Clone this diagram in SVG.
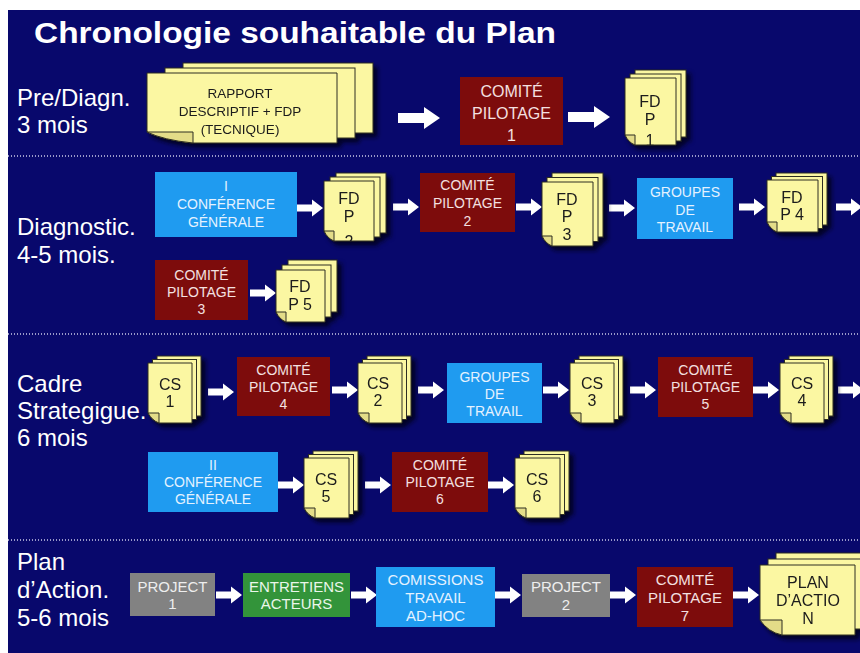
<svg xmlns="http://www.w3.org/2000/svg" width="860" height="653" viewBox="0 0 860 653">
<style>
.lbl{font-family:"Liberation Sans",Arial,sans-serif;font-size:24px;fill:#ffffff}
.ttl{font-family:"Liberation Sans",Arial,sans-serif;font-size:29px;font-weight:bold;fill:#ffffff}
.sep{stroke:#c9c9e6;stroke-width:1.5;stroke-dasharray:1 2;fill:none}
.red{fill:#7d0c0c}
.blue{fill:#1f9bf0}
.green{fill:#33943a}
.gray{fill:#828282}
.bt{font-family:"Liberation Sans",Arial,sans-serif;font-size:14px;text-anchor:middle}
.bt15{font-family:"Liberation Sans",Arial,sans-serif;font-size:15px;text-anchor:middle}
.bt16{font-family:"Liberation Sans",Arial,sans-serif;font-size:16px;text-anchor:middle}
.wr{fill:#f4e0e0}
.wb{fill:#e4f2ff}
.wg{fill:#eaf6ea}
.wgr{fill:#eeeeee}
.sheet{fill:#fbf7a2;stroke:#2e2e22;stroke-width:1}
.fold{fill:#e3dc88;stroke:#2e2e22;stroke-width:1}
.dt{font-family:"Liberation Sans",Arial,sans-serif;font-size:16px;fill:#1c1c1c;text-anchor:middle}
.dts{font-family:"Liberation Sans",Arial,sans-serif;font-size:13.5px;fill:#1c1c1c;text-anchor:middle}
</style>
<defs>
<filter id="sh" x="-20%" y="-20%" width="150%" height="150%">
<feDropShadow dx="4" dy="4" stdDeviation="2" flood-color="#000018" flood-opacity="0.85"/>
</filter>
<path id="as" d="M0,-3.5 H15 V-8.5 L26,0 L15,8.5 V3.5 H0 Z" fill="#ffffff"/>
<path id="ab" d="M0,-5 H26 V-11 L42,0 L26,11 V5 H0 Z" fill="#ffffff"/>
<clipPath id="c1"><rect x="625" y="78" width="51" height="67"/></clipPath>
<clipPath id="c2"><rect x="324" y="181" width="50" height="60"/></clipPath>
</defs>

<rect x="0" y="0" width="860" height="653" fill="#ffffff"/>
<rect x="8" y="10" width="852" height="643" fill="#08086c"/>

<text class="ttl" x="34" y="43" textLength="522" lengthAdjust="spacingAndGlyphs">Chronologie souhaitable du Plan</text>

<line class="sep" x1="8" y1="156" x2="860" y2="156"/>
<line class="sep" x1="8" y1="334" x2="860" y2="334"/>
<line class="sep" x1="8" y1="540" x2="860" y2="540"/>

<g id="labels">
<text class="lbl" x="17" y="106">Pre/Diagn.</text>
<text class="lbl" x="17" y="133">3 mois</text>
<text class="lbl" x="17" y="235">Diagnostic.</text>
<text class="lbl" x="17" y="263">4-5 mois.</text>
<text class="lbl" x="17" y="392">Cadre</text>
<text class="lbl" x="17" y="419">Strategigue.</text>
<text class="lbl" x="17" y="446">6 mois</text>
<text class="lbl" x="17" y="570">Plan</text>
<text class="lbl" x="17" y="598">d’Action.</text>
<text class="lbl" x="17" y="626">5-6 mois</text>
</g>

<g id="connectors">
<use href="#ab" x="398" y="118"/>
<use href="#ab" x="568" y="117"/>
<use href="#as" x="297" y="208"/>
<use href="#as" x="393" y="207"/>
<use href="#as" x="516" y="207"/>
<use href="#as" x="609" y="208"/>
<use href="#as" x="739" y="207"/>
<use href="#as" x="836" y="207"/>
<use href="#as" x="250" y="293"/>
<use href="#as" x="208" y="392"/>
<use href="#as" x="332" y="390"/>
<use href="#as" x="418" y="390"/>
<use href="#as" x="543" y="390"/>
<use href="#as" x="630" y="390"/>
<use href="#as" x="753" y="390"/>
<use href="#as" x="838" y="390"/>
<use href="#as" x="278" y="485"/>
<use href="#as" x="365" y="485"/>
<use href="#as" x="488" y="485"/>
<use href="#as" x="216" y="595"/>
<use href="#as" x="351" y="595"/>
<use href="#as" x="495" y="595"/>
<use href="#as" x="610" y="595"/>
<use href="#as" x="733" y="595"/>
</g>

<!-- Row 1 -->
<g id="rapport" filter="url(#sh)">
<rect class="sheet" x="183" y="63" width="190" height="70"/>
<rect class="sheet" x="165" y="68" width="190" height="70"/>
<path class="sheet" d="M147,73 H337 V143 H193 Q163,140 147,132 Z"/>
<path class="fold" d="M147,132 H193 V143 Q163,140 147,132 Z"/>
<text class="dts" x="240" y="98">RAPPORT</text>
<text class="dts" x="240" y="116">DESCRIPTIF + FDP</text>
<text class="dts" x="240" y="134">(TECNIQUE)</text>
</g>
<g id="comite1">
<rect class="red" x="460" y="77" width="103" height="68"/>
<text class="bt16 wr" x="511.5" y="97">COMITÉ</text>
<text class="bt16 wr" x="511.5" y="119">PILOTAGE</text>
<text class="bt16 wr" x="511.5" y="141">1</text>
</g>
<g id="fdp1" filter="url(#sh)">
<rect class="sheet" x="635" y="70" width="51" height="67"/>
<rect class="sheet" x="630" y="74" width="51" height="67"/>
<path class="sheet" d="M625,78 H676 V145 H635 Q628.5,142.5 625,135 Z"/>
<path class="fold" d="M625,135 H635 V145 Q628.5,142.5 625,135 Z"/>
<text class="dt" x="650" y="107">FD</text>
<text class="dt" x="650" y="125">P</text>
<text class="dt" x="650" y="146" clip-path="url(#c1)">1</text>
</g>

<!-- Row 2 -->
<g id="conf1">
<rect class="blue" x="155" y="172" width="142" height="65"/>
<text class="bt wb" x="226" y="191">I</text>
<text class="bt wb" x="226" y="209">CONFÉRENCE</text>
<text class="bt wb" x="226" y="227">GÉNÉRALE</text>
</g>
<g id="fdp2" filter="url(#sh)">
<rect class="sheet" x="336" y="173" width="50" height="60"/>
<rect class="sheet" x="330" y="177" width="50" height="60"/>
<path class="sheet" d="M324,181 H374 V241 H334 Q327.5,238.5 324,231 Z"/>
<path class="fold" d="M324,231 H334 V241 Q327.5,238.5 324,231 Z"/>
<text class="dt" x="349" y="204">FD</text>
<text class="dt" x="349" y="222">P</text>
<text class="dt" x="349" y="247" clip-path="url(#c2)">2</text>
</g>
<g id="comite2">
<rect class="red" x="420" y="173" width="95" height="59"/>
<text class="bt wr" x="467.5" y="190">COMITÉ</text>
<text class="bt wr" x="467.5" y="208">PILOTAGE</text>
<text class="bt wr" x="467.5" y="226">2</text>
</g>
<g id="fdp3" filter="url(#sh)">
<rect class="sheet" x="552" y="173" width="51" height="64"/>
<rect class="sheet" x="547" y="177.5" width="51" height="64"/>
<path class="sheet" d="M542,182 H593 V246 H552 Q545.5,243.5 542,236 Z"/>
<path class="fold" d="M542,236 H552 V246 Q545.5,243.5 542,236 Z"/>
<text class="dt" x="567" y="205">FD</text>
<text class="dt" x="567" y="222">P</text>
<text class="dt" x="567" y="240">3</text>
</g>
<g id="groupes1">
<rect class="blue" x="637" y="178" width="96" height="61"/>
<text class="bt wb" x="685" y="197">GROUPES</text>
<text class="bt wb" x="685" y="215">DE</text>
<text class="bt wb" x="685" y="232">TRAVAIL</text>
</g>
<g id="fdp4" filter="url(#sh)">
<rect class="sheet" x="776" y="173" width="51" height="52"/>
<rect class="sheet" x="771.5" y="176.5" width="51" height="52"/>
<path class="sheet" d="M767,180 H818 V232 H777 Q770.5,229.5 767,222 Z"/>
<path class="fold" d="M767,222 H777 V232 Q770.5,229.5 767,222 Z"/>
<text class="dt" x="792" y="203">FD</text>
<text class="dt" x="792" y="220">P 4</text>
</g>
<g id="comite3">
<rect class="red" x="155" y="260" width="93" height="60"/>
<text class="bt wr" x="201.5" y="280">COMITÉ</text>
<text class="bt wr" x="201.5" y="297">PILOTAGE</text>
<text class="bt wr" x="201.5" y="314">3</text>
</g>
<g id="fdp5" filter="url(#sh)">
<rect class="sheet" x="288" y="260" width="49" height="52"/>
<rect class="sheet" x="282" y="265" width="49" height="52"/>
<path class="sheet" d="M276,270 H325 V322 H286 Q279.5,319.5 276,312 Z"/>
<path class="fold" d="M276,312 H286 V322 Q279.5,319.5 276,312 Z"/>
<text class="dt" x="300" y="292">FD</text>
<text class="dt" x="300" y="310">P 5</text>
</g>

<!-- Row 3 -->
<g id="cs1" filter="url(#sh)">
<rect class="sheet" x="157" y="356" width="44" height="60"/>
<rect class="sheet" x="152.5" y="359.5" width="44" height="60"/>
<path class="sheet" d="M148,363 H192 V423 H159 Q152,420.5 148,413 Z"/>
<path class="fold" d="M148,413 H159 V423 Q152,420.5 148,413 Z"/>
<text class="dt" x="170" y="390">CS</text>
<text class="dt" x="170" y="407">1</text>
</g>
<g id="comite4">
<rect class="red" x="237" y="357" width="93" height="59"/>
<text class="bt wr" x="283.5" y="375">COMITÉ</text>
<text class="bt wr" x="283.5" y="392">PILOTAGE</text>
<text class="bt wr" x="283.5" y="409">4</text>
</g>
<g id="cs2" filter="url(#sh)">
<rect class="sheet" x="367" y="356" width="44" height="60"/>
<rect class="sheet" x="362.5" y="359.5" width="44" height="60"/>
<path class="sheet" d="M358,363 H402 V423 H369 Q362,420.5 358,413 Z"/>
<path class="fold" d="M358,413 H369 V423 Q362,420.5 358,413 Z"/>
<text class="dt" x="378" y="389">CS</text>
<text class="dt" x="378" y="406">2</text>
</g>
<g id="groupes2">
<rect class="blue" x="447" y="363" width="95" height="60"/>
<text class="bt wb" x="494.5" y="382">GROUPES</text>
<text class="bt wb" x="494.5" y="399">DE</text>
<text class="bt wb" x="494.5" y="416">TRAVAIL</text>
</g>
<g id="cs3" filter="url(#sh)">
<rect class="sheet" x="579" y="356" width="44" height="60"/>
<rect class="sheet" x="574.5" y="359.5" width="44" height="60"/>
<path class="sheet" d="M570,363 H614 V423 H581 Q574,420.5 570,413 Z"/>
<path class="fold" d="M570,413 H581 V423 Q574,420.5 570,413 Z"/>
<text class="dt" x="592" y="389">CS</text>
<text class="dt" x="592" y="406">3</text>
</g>
<g id="comite5">
<rect class="red" x="658" y="357" width="95" height="60"/>
<text class="bt wr" x="705.5" y="375">COMITÉ</text>
<text class="bt wr" x="705.5" y="392">PILOTAGE</text>
<text class="bt wr" x="705.5" y="409">5</text>
</g>
<g id="cs4" filter="url(#sh)">
<rect class="sheet" x="789" y="356" width="44" height="60"/>
<rect class="sheet" x="784.5" y="359.5" width="44" height="60"/>
<path class="sheet" d="M780,363 H824 V423 H791 Q784,420.5 780,413 Z"/>
<path class="fold" d="M780,413 H791 V423 Q784,420.5 780,413 Z"/>
<text class="dt" x="802" y="389">CS</text>
<text class="dt" x="802" y="406">4</text>
</g>
<g id="conf2">
<rect class="blue" x="148" y="452" width="130" height="60"/>
<text class="bt wb" x="213" y="470">II</text>
<text class="bt wb" x="213" y="487">CONFÉRENCE</text>
<text class="bt wb" x="213" y="504">GÉNÉRALE</text>
</g>
<g id="cs5" filter="url(#sh)">
<rect class="sheet" x="313" y="451" width="45" height="60"/>
<rect class="sheet" x="308.5" y="454.5" width="45" height="60"/>
<path class="sheet" d="M304,458 H349 V518 H315 Q308,515.5 304,508 Z"/>
<path class="fold" d="M304,508 H315 V518 Q308,515.5 304,508 Z"/>
<text class="dt" x="326" y="485">CS</text>
<text class="dt" x="326" y="502">5</text>
</g>
<g id="comite6">
<rect class="red" x="392" y="452" width="96" height="60"/>
<text class="bt wr" x="440" y="470">COMITÉ</text>
<text class="bt wr" x="440" y="487">PILOTAGE</text>
<text class="bt wr" x="440" y="504">6</text>
</g>
<g id="cs6" filter="url(#sh)">
<rect class="sheet" x="524" y="451" width="45" height="60"/>
<rect class="sheet" x="519.5" y="454.5" width="45" height="60"/>
<path class="sheet" d="M515,458 H560 V518 H526 Q519,515.5 515,508 Z"/>
<path class="fold" d="M515,508 H526 V518 Q519,515.5 515,508 Z"/>
<text class="dt" x="537" y="485">CS</text>
<text class="dt" x="537" y="502">6</text>
</g>

<!-- Row 4 -->
<g id="project1">
<rect class="gray" x="130" y="573" width="85" height="43"/>
<text class="bt15 wgr" x="172.5" y="592">PROJECT</text>
<text class="bt15 wgr" x="172.5" y="609">1</text>
</g>
<g id="entretiens">
<rect class="green" x="243" y="573" width="107" height="44"/>
<text class="bt15 wg" x="296.5" y="592">ENTRETIENS</text>
<text class="bt15 wg" x="296.5" y="609">ACTEURS</text>
</g>
<g id="comissions">
<rect class="blue" x="376" y="567" width="119" height="60"/>
<text class="bt15 wb" x="435.5" y="585">COMISSIONS</text>
<text class="bt15 wb" x="435.5" y="603">TRAVAIL</text>
<text class="bt15 wb" x="435.5" y="621">AD-HOC</text>
</g>
<g id="project2">
<rect class="gray" x="522" y="574" width="88" height="43"/>
<text class="bt15 wgr" x="566" y="592">PROJECT</text>
<text class="bt15 wgr" x="566" y="610">2</text>
</g>
<g id="comite7">
<rect class="red" x="637" y="567" width="96" height="60"/>
<text class="bt15 wr" x="685" y="585">COMITÉ</text>
<text class="bt15 wr" x="685" y="603">PILOTAGE</text>
<text class="bt15 wr" x="685" y="621">7</text>
</g>
<g id="plan" filter="url(#sh)">
<rect class="sheet" x="776" y="553" width="95" height="70"/>
<rect class="sheet" x="768" y="559" width="95" height="70"/>
<path class="sheet" d="M760,565 H855 V635 H782 Q768,632 760,620 Z"/>
<path class="fold" d="M760,620 H782 V635 Q768,632 760,620 Z"/>
<text class="dt" x="808" y="588">PLAN</text>
<text class="dt" x="808" y="606">D’ACTIO</text>
<text class="dt" x="808" y="624">N</text>
</g>
</svg>
